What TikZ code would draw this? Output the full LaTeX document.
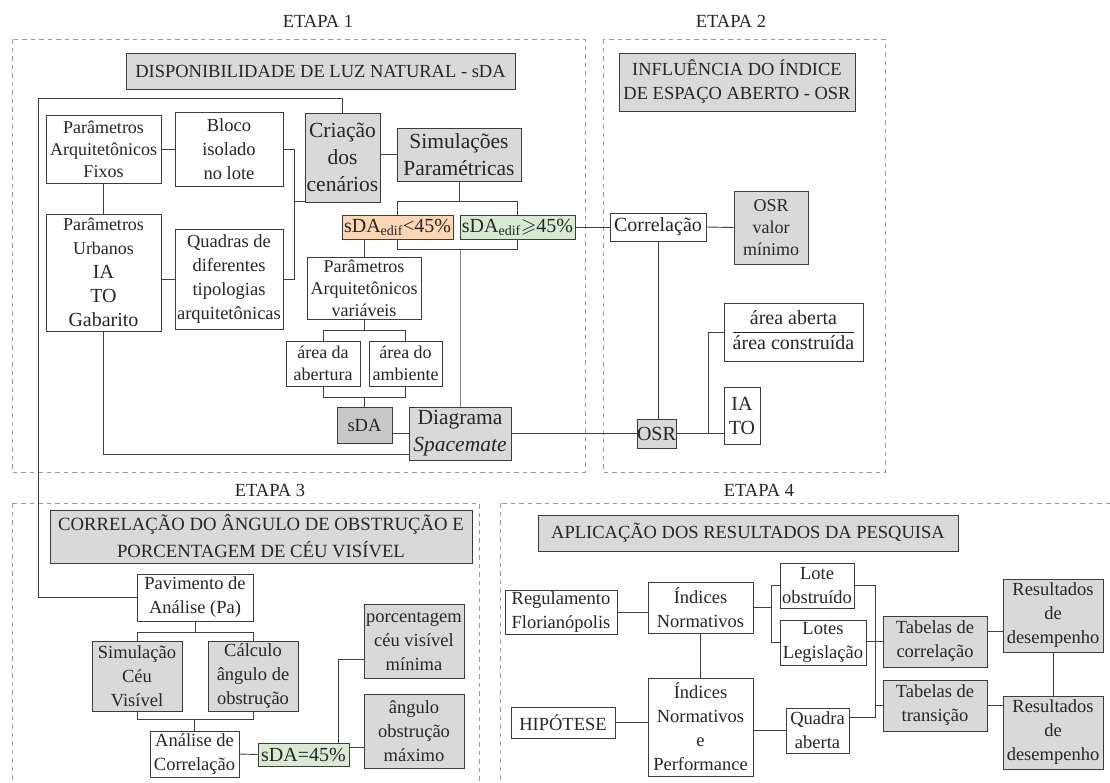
\documentclass[tikz,border=0pt]{standalone}
\usepackage{fontspec}
\setmainfont{Liberation Serif}
\usepackage{amssymb}
\newcommand{\fsn}{\fontsize{18.5}{24}\selectfont}
\newcommand{\fsm}{\fontsize{18}{22}\selectfont}
\newcommand{\fsl}{\fontsize{21.5}{27}\selectfont}
\newcommand{\fsb}{\fontsize{20}{24}\selectfont}
\newcommand{\fst}{\fontsize{18.7}{27}\selectfont}
\definecolor{ink}{HTML}{262626}
\definecolor{boxline}{HTML}{3C3C3C}
\definecolor{linkgray}{HTML}{404040}
\definecolor{midgray}{HTML}{808080}
\definecolor{dashgray}{HTML}{9A9A9A}
\definecolor{boxgray}{HTML}{D9D9D9}
\definecolor{sdagray}{HTML}{C8C8C8}
\definecolor{lowsda}{HTML}{FBD6B5}
\definecolor{oksda}{HTML}{D9EAD3}
\begin{document}
\begin{tikzpicture}[x=1pt,y=-1pt,
	box/.style={draw=boxline, line width=1pt, fill=white, text=ink, align=center, inner sep=0pt, font=\fsn},
	gbox/.style={box, fill=boxgray},
	wh/.style 2 args={minimum width=#1pt, minimum height=#2pt},
	etapa/.style={draw=dashgray, line width=0.9pt, dash pattern=on 4.5pt off 4pt},
	link/.style={draw=linkgray, line width=0.9pt},
	stage/.style={text=ink, font=\fsn}]
	\useasboundingbox (0,0) rectangle (1110,782);
	\clip (0,0) rectangle (1110,782);
	\fill[white] (0,0) rectangle (1110,782);

	\node[stage] (et1) at (318,21) {ETAPA 1};
	\node[stage] (et2) at (731,21) {ETAPA 2};
	\node[stage] (et3) at (270,490) {ETAPA 3};
	\node[stage] (et4) at (759,490) {ETAPA 4};
	\draw[etapa] (12,39) rectangle (585,472);
	\draw[etapa] (603,39) rectangle (885,472);
	\draw[etapa] (12,503) rectangle (479,795);
	\draw[etapa] (500,503) rectangle (1125,795);

	\node[gbox, wh={389}{36}] (luz) at (320.5,71) {DISPONIBILIDADE DE LUZ NATURAL - sDA};
	\node[box, wh={115}{68}, font=\fsm] (fixos) at (103.5,149) {Parâmetros\\Arquitetônicos\\Fixos};
	\node[box, wh={108}{74}] (bloco) at (229,149) {Bloco\\isolado\\no lote};
	\node[gbox, wh={75}{89}, font=\fsl] (cenarios) at (342.5,157.5) {Criação\\dos\\cenários};
	\node[gbox, wh={124}{53}, font=\fsl] (simul) at (459,154.5) {Simulações\\Paramétricas};
	\node[box, fill=lowsda, wh={111}{24}, font=\fsb] (sdalow) at (397.5,227) {sDA\textsubscript{edif}<45\%};
	\node[box, fill=oksda, wh={115}{24}, font=\fsb] (sdaok) at (517.5,227) {sDA\textsubscript{edif}$\geqslant$45\%};
	\node[box, wh={115}{117}] (urbanos) at (103.5,272.5) {\fsm Parâmetros\\\fsm Urbanos\\\fsb IA\\\fsb TO\\\fsb Gabarito};
	\node[box, wh={108}{100}] (quadras) at (229,279) {Quadras de\\diferentes\\tipologias\\arquitetônicas};
	\node[box, wh={114}{62}, font=\fsm] (variaveis) at (364,288) {Parâmetros\\Arquitetônicos\\variáveis};
	\node[box, wh={74}{45}, font=\fsm] (abertura) at (323,363.5) {área da\\abertura};
	\node[box, wh={73}{45}, font=\fsm] (ambiente) at (405.5,363.5) {área do\\ambiente};
	\node[gbox, fill=sdagray, wh={55}{36}] (sda) at (364.5,425) {sDA};
	\node[gbox, wh={102}{53}, font=\fsl] (spacemate) at (460,433.5) {Diagrama\\\textit{Spacemate}};

	\node[gbox, wh={236}{58}] (osrtit) at (737,82) {INFLUÊNCIA DO ÍNDICE\\DE ESPAÇO ABERTO - OSR};
	\node[box, wh={96}{28}, font=\fsb] (correl) at (658,227) {Correlação};
	\node[gbox, wh={74}{73}, font=\fsm] (osrmin) at (771,227.5) {OSR\\valor\\mínimo};
	\node[gbox, wh={39}{29}, font=\fsb] (osr) at (656.5,433.5) {OSR};
	\node[box, wh={139}{58}, font=\fsb] (razao) at (793.5,332) {{\setlength{\tabcolsep}{0pt}\setlength{\arrayrulewidth}{0.8pt}\begin{tabular}{c}área aberta\\\hline área construída\end{tabular}}};
	\node[box, wh={36}{57}, font=\fsb] (iato) at (742,415.5) {IA\\TO};

	\node[gbox, wh={422}{53}, font=\fst] (ceutit) at (261,536.5) {CORRELAÇÃO DO ÂNGULO DE OBSTRUÇÃO E\\PORCENTAGEM DE CÉU VISÍVEL};
	\node[box, wh={116}{47}] (pavimento) at (195,597.5) {Pavimento de\\Análise (Pa)};
	\node[gbox, wh={90}{70}] (ceuvis) at (137,676) {Simulação\\Céu\\Visível};
	\node[gbox, wh={90}{70}] (obstr) at (253,676) {Cálculo\\ângulo de\\obstrução};
	\node[box, wh={89}{46}] (analise) at (194.5,754) {Análise de\\Correlação};
	\node[box, fill=oksda, wh={91}{23}, font=\fsb] (sdaigual) at (303.5,754.5) {sDA=45\%};
	\node[gbox, wh={100}{74}] (ceumin) at (414,641) {porcentagem\\céu visível\\mínima};
	\node[gbox, wh={100}{74}] (angmax) at (414,731) {ângulo\\obstrução\\máximo};

	\node[gbox, wh={420}{36}] (aplic) at (748,533) {APLICAÇÃO DOS RESULTADOS DA PESQUISA};
	\node[box, wh={112}{44}] (regul) at (561,612) {Regulamento\\Florianópolis};
	\node[box, wh={105}{51}] (indnorm) at (700.5,607.5) {Índices\\Normativos};
	\node[box, wh={74}{45}] (loteobs) at (817,585.5) {Lote\\obstruído};
	\node[box, wh={86}{45}] (loteleg) at (823,642.5) {Lotes\\Legislação};
	\node[gbox, wh={104}{51}] (tabcorr) at (935,641.5) {Tabelas de\\correlação};
	\node[gbox, wh={104}{51}] (tabtran) at (935,705.5) {Tabelas de\\transição};
	\node[gbox, wh={100}{73}] (resA) at (1053,615.5) {Resultados\\de\\desempenho};
	\node[gbox, wh={100}{73}] (resB) at (1053,732.5) {Resultados\\de\\desempenho};
	\node[box, wh={104}{31}] (hipot) at (563,722.5) {HIPÓTESE};
	\node[box, wh={105}{98}] (indperf) at (700.5,727) {Índices\\Normativos\\e\\Performance};
	\node[box, wh={63}{45}] (quadra) at (817.5,730.5) {Quadra\\aberta};

	\coordinate (topleft) at (38,98);
	\draw[link] (cenarios.north) |- (topleft) |- (pavimento.west);
	\draw[link] (fixos.east) -- (bloco.west);
	\draw[link] (fixos.south) -- (urbanos.north);
	\draw[link] (quadras.west) -- (quadras.west -| urbanos.east);
	\draw[link] (bloco.east) -- ++(11,0) coordinate (blk) |- (quadras.east);
	\coordinate (cenin) at ([yshift=1.5pt]cenarios.south west);
	\draw[link] (cenin) -- (cenin -| blk);
	\draw[link] (simul.west) -- (simul.west -| cenarios.east);
	\draw[link] (sdalow.north) -- ++(0,-13) coordinate (up) -| (sdaok.north);
	\draw[link] (simul.south) -- (simul.south |- up);
	\draw[link] (sdalow.south) -- ++(0,10) coordinate (dn) -| (sdaok.south);
	\draw[link, draw=midgray] (spacemate.north) -- (spacemate.north |- dn);
	\draw[link] (variaveis.north) -- (variaveis.north |- sdalow.south);
	\draw[link] (variaveis.south) -- ++(0,11) coordinate (vf);
	\draw[link] (abertura.north) |- (vf) -| (ambiente.north);
	\draw[link] (abertura.south) -- ++(0,11) coordinate (af) -| (ambiente.south);
	\draw[link] (sda.north) -- (sda.north |- af);
	\draw[link] (spacemate.west) -- (spacemate.west -| sda.east);
	\draw[link] (urbanos.south) |- ([yshift=6pt]spacemate.south west);
	\draw[link] (spacemate.east) -- (osr.west);

	\draw[link] (sdaok.east) -- (correl.west);
	\draw[link] (correl.east) -- (osrmin.west);
	\draw[link] (correl.south) -- (correl.south |- osr.north);
	\draw[link] (osr.east) -- ++(32,0) coordinate (ob) |- (razao.west);
	\draw[link] (ob) -- (ob -| iato.west);

	\draw[link] (pavimento.south) -- ++(0,11) coordinate (pf);
	\draw[link] (ceuvis.north) |- (pf) -| (obstr.north);
	\draw[link] (ceuvis.south) -- ++(0,8) coordinate (cf) -| (obstr.south);
	\draw[link] (analise.north) -- (analise.north |- cf);
	\draw[link] (analise.east) -- (sdaigual.west);
	\coordinate (sdr) at ([yshift=7pt]sdaigual.east);
	\draw[link] (sdr) -- (sdr -| angmax.west);
	\coordinate (cmin) at ([yshift=-18pt]ceumin.west);
	\draw[link] ([xshift=35pt]sdaigual.north) |- (cmin);

	\draw[link] (regul.east) -- (regul.east -| indnorm.west);
	\draw[link] (indnorm.east) -- ++(18,0) coordinate (ib);
	\draw[link] (loteobs.west) -| (ib);
	\draw[link] (loteleg.west) -| (ib);
	\coordinate (qa) at ([yshift=13pt]quadra.east);
	\draw[link] (loteobs.east) -- ++(21,0) coordinate (rb) |- (qa);
	\draw[link] (tabcorr.west) -- (tabcorr.west -| loteleg.east);
	\draw[link] (tabtran.west) -- (tabtran.west -| rb);
	\coordinate (tc) at ([yshift=10pt]tabcorr.east);
	\draw[link] (tc) -- (tc -| resA.west);
	\draw[link] (tabtran.east) -- (tabtran.east -| resB.west);
	\draw[link] (resA.south) -- (resB.north);
	\draw[link] (hipot.east) -- (hipot.east -| indperf.west);
	\draw[link] (indnorm.south) -- (indperf.north);
	\draw[link] (quadra.west) -- (quadra.west -| indperf.east);
\end{tikzpicture}
\end{document}
